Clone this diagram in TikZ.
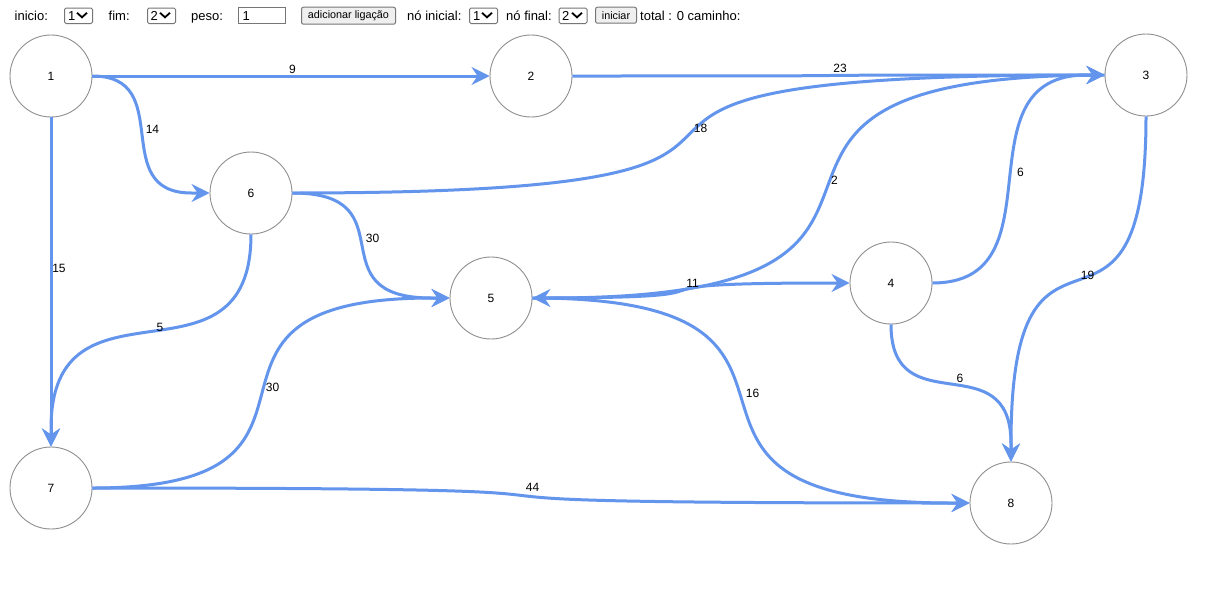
\documentclass[tikz,border=0pt]{standalone}
\usepackage{fontspec}
\setmainfont{Liberation Sans}
\usetikzlibrary{arrows.meta,calc}
\definecolor{edgeblue}{HTML}{6495ED}
\definecolor{ringgray}{HTML}{8F8F8F}
\definecolor{ctlborder}{HTML}{767676}
\definecolor{btnfill}{HTML}{EFEFEF}
\tikzset{
 vertex/.style={circle,draw=ringgray,line width=0.9pt,fill=white,minimum size=82pt,inner sep=0pt,font=\fontsize{12}{14}\selectfont},
 edge/.style={draw=edgeblue,line width=3pt,-{Stealth[length=18pt,width=18pt,inset=6pt]}},
 wlabel/.style={font=\fontsize{12}{14}\selectfont,inner sep=0pt},
 uitext/.style={font=\fontsize{13}{15}\selectfont,inner sep=0pt,anchor=base west},
 selbox/.style={draw=ctlborder,line width=1pt,fill=white,rounded corners=1.5pt,inner sep=0pt,anchor=north west},
 btn/.style={draw=ctlborder,line width=1pt,fill=btnfill,rounded corners=2pt,font=\fontsize{10.8}{12}\selectfont,inner sep=0pt,anchor=north west},
 chev/.style={line width=1.8pt,line join=miter},
}
\begin{document}
\begin{tikzpicture}[x=1pt,y=-1pt]
\fill[white] (0,0) rectangle (1211,590);
\useasboundingbox (0,0) rectangle (1211,590);

% toolbar
\node[uitext] (tinicio) at (14.5,20.5) {inicio:};
\node[selbox,minimum width=28pt,minimum height=15.5pt] (sel1) at (64,7.5) {};
\node[uitext] (sel1t) at (68,20.5) {1};
\draw[chev] (77,12.8) -- (82,17.3) -- (87,12.8);
\node[uitext] (tfim) at (108.5,20.5) {fim:};
\node[selbox,minimum width=28pt,minimum height=15.5pt] (sel2) at (147,7.5) {};
\node[uitext] (sel2t) at (150.5,20.5) {2};
\draw[chev] (160,12.8) -- (165,17.3) -- (170,12.8);
\node[uitext] (tpeso) at (191,20.5) {peso:};
\node[selbox,minimum width=47pt,minimum height=15.5pt,rounded corners=0pt] (peso) at (238,7.3) {};
\node[uitext] (pesot) at (242.5,20.5) {1};
\node[btn,minimum width=94pt,minimum height=17pt] (addbtn) at (301,6.7) {adicionar ligação};
\node[uitext] (tini) at (407,20.5) {nó inicial:};
\node[selbox,minimum width=28pt,minimum height=15.5pt] (sel3) at (469,7.5) {};
\node[uitext] (sel3t) at (473,20.5) {1};
\draw[chev] (482,12.8) -- (487,17.3) -- (492,12.8);
\node[uitext] (tfin) at (506,20.5) {nó final:};
\node[selbox,minimum width=28pt,minimum height=15.5pt] (sel4) at (558.5,7.5) {};
\node[uitext] (sel4t) at (562,20.5) {2};
\draw[chev] (572,12.8) -- (577,17.3) -- (582,12.8);
\node[btn,minimum width=41pt,minimum height=16pt] (inibtn) at (595,6.7) {iniciar};
\node[uitext] (ttotal) at (640,20.5) {total : 0 caminho:};

% vertices
\node[vertex] (n1) at (51,76) {1};
\node[vertex] (n2) at (531,76) {2};
\node[vertex] (n3) at (1146,75) {3};
\node[vertex] (n4) at (891,283) {4};
\node[vertex] (n5) at (491,298) {5};
\node[vertex] (n6) at (251,193) {6};
\node[vertex] (n7) at (51,488) {7};
\node[vertex] (n8) at (1011,503) {8};

% edges
\draw[edge] (n1.east) -- (n2.west);
\draw[edge] (n1.east) .. controls (177,76) and (107,193) .. ([xshift=-18pt]n6.west) -- (n6.west);
\draw[edge] (n1.south) -- (n7.north);
\draw[edge] (n2.east) .. controls (1009.75,76) and (649.25,75) .. ([xshift=-18pt]n3.west) -- (n3.west);
\draw[edge] (n6.east) .. controls (967.75,193) and (411.25,75) .. ([xshift=-18pt]n3.west) -- (n3.west);
\draw[edge] (n6.east) .. controls (411,193) and (313,298) .. ([xshift=-18pt]n5.west) -- (n5.west);
\draw[edge] (n6.south) .. controls (251,399.75) and (51,263.25) .. ([yshift=18pt]n7.north) -- (n7.north);
\draw[edge] (n7.east) .. controls (381,488) and (143,298) .. ([xshift=-18pt]n5.west) -- (n5.west);
\draw[edge] (n7.east) .. controls (823,488) and (221,503) .. ([xshift=-18pt]n8.west) -- (n8.west);
\draw[edge] (n3.west) .. controls (633.25,75) and (1021.75,298) .. ([xshift=18pt]n5.east) -- (n5.east);
\draw[edge] (n5.east) .. controls (787,298) and (577,283) .. ([xshift=-18pt]n4.west) -- (n4.west);
\draw[edge] (n5.east) .. controls (889,298) and (595,503) .. ([xshift=-18pt]n8.west) -- (n8.west);
\draw[edge] (n4.east) .. controls (1063.75,283) and (955.25,75) .. ([xshift=-18pt]n3.west) -- (n3.west);
\draw[edge] (n4.south) .. controls (891,426) and (1011,342) .. ([yshift=18pt]n8.north) -- (n8.north);
\draw[edge] (n3.south) .. controls (1146,394.8) and (1011,165.2) .. ([yshift=18pt]n8.north) -- (n8.north);

% weights
\node[wlabel] (w12) at (292.5,69.5) {9};
\node[wlabel] (w16) at (152.5,129) {14};
\node[wlabel] (w17) at (59,268.5) {15};
\node[wlabel] (w23) at (840,68) {23};
\node[wlabel] (w63) at (700.5,128) {18};
\node[wlabel] (w65) at (372.5,238.5) {30};
\node[wlabel] (w67) at (160,327) {5};
\node[wlabel] (w75) at (272.5,387) {30};
\node[wlabel] (w78) at (532.5,487.5) {44};
\node[wlabel] (w35) at (834.5,180) {2};
\node[wlabel] (w54) at (692.5,283.5) {11};
\node[wlabel] (w58) at (752.5,393) {16};
\node[wlabel] (w43) at (1020.5,172) {6};
\node[wlabel] (w48) at (960,378.5) {6};
\node[wlabel] (w38) at (1087.5,275) {19};
\end{tikzpicture}
\end{document}
